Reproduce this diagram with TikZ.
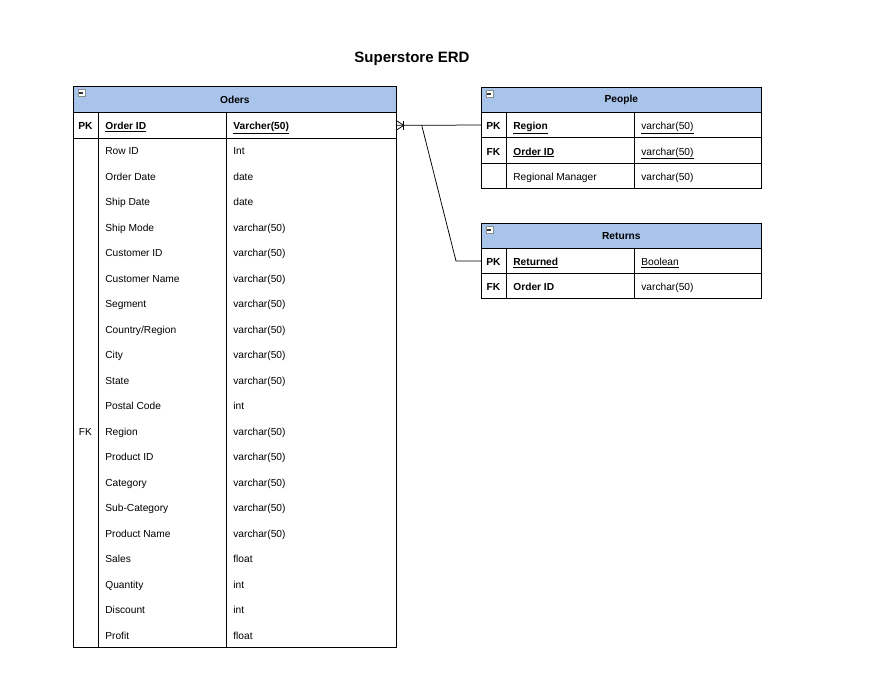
\documentclass[tikz,border=0pt]{standalone}
\usepackage{fontspec}
\setmainfont{Liberation Sans}
\usetikzlibrary{positioning}
\usetikzlibrary{calc}
\definecolor{hdrblue}{RGB}{169,196,235}
\tikzstyle{tablehead}=[draw, fill=hdrblue, anchor=north west, inner sep=0pt, font=\fontsize{10.2}{12}\selectfont\bfseries]
\tikzstyle{tablerow}=[draw, fill=white, anchor=north west, inner sep=0pt]
\tikzstyle{celltext}=[anchor=west, inner sep=0pt, text height=10.5pt, text depth=1pt, font=\fontsize{10.2}{12}\selectfont]
\tikzstyle{keytext}=[inner sep=0pt, text height=10.5pt, text depth=1pt, font=\fontsize{10.2}{12}\selectfont\bfseries]
\tikzstyle{minusicon}=[draw=black!45, fill=white, minimum size=7pt, inner sep=0pt, anchor=north west]
\newcommand{\ul}[1]{\underline{#1}}

\begin{document}
\begin{tikzpicture}[x=1pt, y=-1pt, line width=0.75pt]
\useasboundingbox (0,0) rectangle (871,679);

\node[font=\fontsize{15}{18}\selectfont\bfseries] (title) at (412,59) {Superstore ERD};

%Oders
    \node[tablehead, minimum width=323pt, minimum height=26pt] (oders) at (73,86) {Oders};
    \node[tablerow, minimum width=323pt, minimum height=26pt] (oderspk) at (73,112) {};
    \node[tablerow, minimum width=323pt, minimum height=509pt] (odersbody) at (73,138) {};
    \draw (98,112) -- (98,647);
    \draw (226,112) -- (226,647);
    \node[minusicon] (odersminus) at (77.5,89.5) {};
    \draw[line width=2pt, black!80] (79,93) -- (83,93);
    \node[keytext] at (85.5,125) {PK};
    \node[celltext, font=\fontsize{10.2}{12}\selectfont\bfseries] at (105,125) {\ul{Order ID}};
    \node[celltext, font=\fontsize{10.2}{12}\selectfont\bfseries] at (233,125) {\ul{Varcher(50)}};

    \foreach \i/\name/\type in {0/Row ID/Int, 1/Order Date/date, 2/Ship Date/date, 3/Ship Mode/varchar(50),
        4/Customer ID/varchar(50), 5/Customer Name/varchar(50), 6/Segment/varchar(50), 7/Country\slash Region/varchar(50),
        8/City/varchar(50), 9/State/varchar(50), 10/Postal Code/int, 11/Region/varchar(50), 12/Product ID/varchar(50),
        13/Category/varchar(50), 14/Sub-Category/varchar(50), 15/Product Name/varchar(50), 16/Sales/float,
        17/Quantity/int, 18/Discount/int, 19/Profit/float}
    {
        \node[celltext] at (105,150+25.5*\i) {\name};
        \node[celltext] at (233,150+25.5*\i) {\type};
    }
    \node[keytext, font=\fontsize{10.2}{12}\selectfont] (odersfk) at (85.5,431) {FK};

%People
    \node[tablehead, minimum width=280pt, minimum height=25pt] (people) at (481,87) {People};
    \node[minusicon] (peopleminus) at (485.5,90.5) {};
    \draw[line width=2pt, black!80] (487,94) -- (491,94);
    \foreach \i/\key/\name/\type in {0/PK/\ul{Region}/\ul{varchar(50)}, 1/FK/\ul{Order ID}/\ul{varchar(50)}, 2//{}/{}}
    {
        \node[tablerow, minimum width=280pt, minimum height=25.3pt] (people\i) at (481,112+25.3*\i) {};
        \node[keytext] at (493.5,125+25.3*\i) {\key};
        \node[celltext, font=\fontsize{10.2}{12}\selectfont\bfseries] at (513,125+25.3*\i) {\name};
        \node[celltext] at (641,125+25.3*\i) {\type};
    }
    \node[celltext] at (513,176) {Regional Manager};
    \node[celltext] at (641,176) {varchar(50)};
    \draw (506,112) -- (506,188);
    \draw (634,112) -- (634,188);

%Returns
    \node[tablehead, minimum width=280pt, minimum height=25pt] (returns) at (481,223) {Returns};
    \node[minusicon] (returnsminus) at (485.5,226.5) {};
    \draw[line width=2pt, black!80] (487,230) -- (491,230);
    \foreach \i/\key/\name/\type in {0/PK/\ul{Returned}/\ul{Boolean}, 1/FK/Order ID/varchar(50)}
    {
        \node[tablerow, minimum width=280pt, minimum height=25pt] (returns\i) at (481,248+25*\i) {};
        \node[keytext] at (493.5,261+25*\i) {\key};
        \node[celltext, font=\fontsize{10.2}{12}\selectfont\bfseries] at (513,261+25*\i) {\name};
        \node[celltext] at (641,261+25*\i) {\type};
    }
    \draw (506,248) -- (506,298);
    \draw (634,248) -- (634,298);

%Relations
    \coordinate (split) at ($(oderspk.east)+(25,0)$);
    \coordinate (bend) at (456,261);
    \draw (oderspk.east) -- (people0.west);
    \draw (split) -- (bend) -- (returns0.west);
    \draw ($(oderspk.east)+(0,-4.5)$) -- ($(oderspk.east)+(7,0)$) -- ($(oderspk.east)+(0,4.5)$);
    \draw ($(oderspk.east)+(7,-4.5)$) -- ($(oderspk.east)+(7,4.5)$);

\end{tikzpicture}
\end{document}
